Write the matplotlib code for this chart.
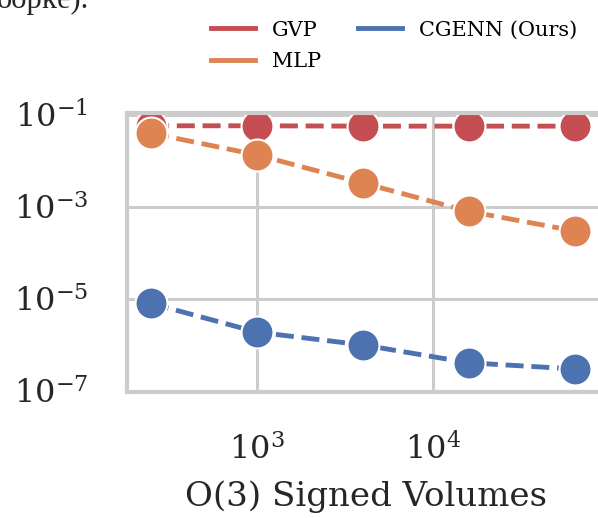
import matplotlib; matplotlib.use("Agg")
import matplotlib.pyplot as plt

plt.rcParams["font.family"] = "DejaVu Serif"
plt.rcParams["mathtext.fontset"] = "dejavuserif"

# ---------------------------------------------------------- data
n_samples = [250, 1000, 4000, 16000, 64000]
gvp   = [0.058, 0.058, 0.057, 0.057, 0.057]
mlp   = [0.040, 0.0135, 0.0033, 8.0e-4, 3.0e-4]
cgenn = [8.0e-6, 1.9e-6, 1.0e-6, 4.1e-7, 3.0e-7]
SERIES = [("GVP", gvp, "#c44e52"), ("MLP", mlp, "#dd8452"), ("CGENN (Ours)", cgenn, "#4c72b0")]

fig = plt.figure(figsize=(5.98, 5.18), dpi=100)
ax = fig.add_axes([127/598, 1-392/518, (605-127)/598, (392-113)/518])

for name, vals, col in SERIES:
    ax.plot(n_samples, vals, ls="--", lw=3.5, color=col, marker="o", ms=23,
            mec="white", mew=1.5, label=name)

ax.set_xscale("log"); ax.set_yscale("log")
ax.set_xlim(182.5, 94800); ax.set_ylim(9.5e-8, 0.11)
ax.set_xticks([1e3, 1e4]); ax.set_yticks([1e-7, 1e-5, 1e-3, 1e-1])
ax.minorticks_off()
ax.grid(True, color="#cccccc", lw=2.2)
ax.set_axisbelow(True)
for s in ax.spines.values():
    s.set_color("#cccccc"); s.set_linewidth(3)
ax.tick_params(length=0, labelsize=23, colors="#262626")
ax.tick_params(axis="x", pad=30)
ax.tick_params(axis="y", pad=28)
ax.set_xlabel("O(3) Signed Volumes", fontsize=24.5, color="#262626", labelpad=10)

fig.legend(*ax.get_legend_handles_labels(), loc="center", bbox_to_anchor=(394/598, 1-46/518),
           ncol=2, frameon=False, fontsize=15, handlelength=2.1, columnspacing=1.8,
           labelspacing=0.6, handletextpad=0.8)
for h in fig.legends[0].legend_handles:
    h.set_marker(""); h.set_linestyle("-"); h.set_linewidth(3.5)

fig.text(-0.005, 1.0, "oopke).", fontsize=22, family="Liberation Serif", va="center", ha="left",
         color="#262626")
fig.savefig("out.png")
